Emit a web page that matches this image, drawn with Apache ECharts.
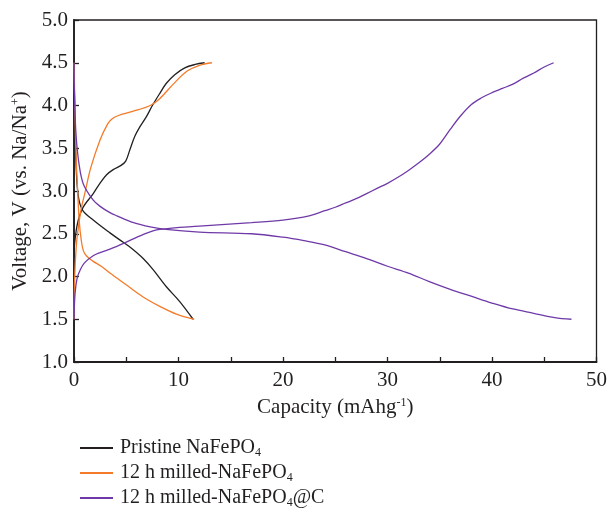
<!DOCTYPE html>
<html>
<head>
<meta charset="utf-8">
<script src="https://cdn.jsdelivr.net/npm/echarts@6/dist/echarts.min.js"></script>
<style>html,body{margin:0;padding:0;background:#fff}#c{width:610px;height:517px}</style>
</head>
<body>
<div id="c"></div>
<script>
const seriesNames = ['Pristine NaFePO4', '12 h milled-NaFePO4', '12 h milled-NaFePO4@C'];
const xTicks = [0, 10, 20, 30, 40, 50];
const yTicks = [1.0, 1.5, 2.0, 2.5, 3.0, 3.5, 4.0, 4.5, 5.0];

// Pristine NaFePO4
const pristineCharge = [[0,2.3],[0.3,2.6],[0.83,2.8],[1.84,2.97],[2.48,3.09],[3.12,3.19],[3.75,3.25],[4.5,3.3],[4.95,3.35],[5.34,3.48],[5.82,3.64],[6.3,3.75],[6.93,3.87],[7.5,4.0],[8.2,4.14],[8.84,4.26],[9.64,4.36],[10.6,4.44],[11.6,4.48],[12.5,4.5]];
const pristineDischarge = [[0,4.5],[0.08,3.9],[0.2,3.3],[0.4,2.95],[0.8,2.78],[1.84,2.66],[3.44,2.51],[4.71,2.4],[5.5,2.33],[6.62,2.21],[7.57,2.08],[8.84,1.88],[10.1,1.71],[11.4,1.5]];

// 12 h milled-NaFePO4
const milledCharge = [[0,1.5],[0.03,1.8],[0.1,2.1],[0.25,2.4],[0.45,2.6],[0.7,2.8],[1.05,2.98],[1.6,3.27],[2.5,3.6],[3.2,3.78],[3.6,3.84],[4.2,3.88],[5.6,3.93],[7.3,4.0],[8.2,4.08],[9.5,4.25],[10.8,4.4],[12.0,4.47],[13.2,4.5]];
const milledDischarge = [[0,4.5],[0.1,3.9],[0.2,3.4],[0.35,3.0],[0.5,2.65],[0.7,2.42],[0.9,2.3],[1.2,2.24],[1.8,2.18],[2.6,2.12],[3.44,2.04],[5.03,1.9],[6.62,1.76],[8.21,1.65],[9.8,1.56],[11.5,1.5]];

// 12 h milled-NaFePO4@C
const carbonCharge = [[0,1.5],[0.1,1.8],[0.3,1.98],[0.6,2.08],[1.0,2.16],[1.8,2.24],[2.5,2.28],[3.44,2.32],[4.8,2.39],[6.6,2.49],[8.2,2.55],[12,2.59],[17,2.63],[20,2.66],[22.5,2.71],[24,2.77],[25,2.81],[26,2.86],[27,2.91],[28,2.97],[29,3.03],[30,3.09],[31,3.16],[32,3.24],[33,3.33],[34,3.43],[35,3.55],[36,3.72],[37,3.88],[38,4.01],[39,4.09],[40,4.15],[41,4.2],[42,4.25],[43,4.32],[44,4.38],[45,4.45],[45.9,4.5]];
const carbonDischarge = [[0,4.5],[0.05,4.1],[0.2,3.65],[0.5,3.3],[0.9,3.08],[1.8,2.9],[2.5,2.82],[3.4,2.75],[4.1,2.71],[5.7,2.63],[7.3,2.58],[8.8,2.55],[12,2.52],[17,2.5],[20,2.46],[22,2.42],[24,2.37],[26,2.29],[28,2.21],[30,2.12],[32,2.04],[34,1.94],[36,1.85],[38,1.77],[40,1.69],[42,1.62],[44,1.57],[46,1.52],[47.6,1.5]];

const colors = ['#231f20', '#f47b2a', '#6f3aa8'];
const font = '"Liberation Serif", "DejaVu Serif", serif';

function mk(name, data, color) {
  return {
    type: 'line', name: name, data: data, showSymbol: false, symbol: 'none',
    smooth: 0.35, lineStyle: { color: color, width: 1.3 }, itemStyle: { color: color },
    animation: false, z: 3
  };
}

const supStyle = { fontFamily: font, fontSize: 12, verticalAlign: 'top', padding: [0, 0, 9, 0], color: '#231f20' };

const chart = echarts.init(document.getElementById('c'), null, { renderer: 'canvas' });
chart.setOption({
  animation: false,
  textStyle: { fontFamily: font },
  grid: { left: 74, right: 12, top: 20, bottom: 155, show: true, borderColor: '#231f20', borderWidth: 1.3, backgroundColor: 'transparent' },
  xAxis: {
    type: 'value', min: xTicks[0], max: xTicks[xTicks.length - 1], interval: 10,
    name: 'Capacity (mAhg{sup|-1})', nameLocation: 'middle', nameGap: 35,
    nameTextStyle: { fontFamily: font, fontSize: 21, color: '#231f20', rich: { sup: supStyle } },
    axisLine: { lineStyle: { color: '#231f20', width: 1.8 } },
    axisTick: { inside: true, length: 5, lineStyle: { color: '#231f20', width: 1.3 } },
    minorTick: { show: true, splitNumber: 2, length: 5, lineStyle: { color: '#231f20', width: 1.3 } },
    axisLabel: { fontFamily: font, fontSize: 21, color: '#231f20', margin: 8 },
    splitLine: { show: false }
  },
  yAxis: {
    type: 'value', min: yTicks[0], max: yTicks[yTicks.length - 1], interval: 0.5,
    name: 'Voltage, V (vs. Na/Na{sup|+})', nameLocation: 'middle', nameGap: 41, nameRotate: 90,
    nameTextStyle: { fontFamily: font, fontSize: 21, color: '#231f20', rich: { sup: supStyle } },
    axisLine: { lineStyle: { color: '#231f20', width: 1.8 } },
    axisTick: { inside: true, length: 5, lineStyle: { color: '#231f20', width: 1.3 } },
    axisLabel: { fontFamily: font, fontSize: 21, color: '#231f20', margin: 6, formatter: v => v.toFixed(1) },
    splitLine: { show: false }
  },
  legend: {
    orient: 'vertical', left: 75, top: 433, itemGap: 4, itemWidth: 33, itemHeight: 2, icon: 'rect',
    data: seriesNames,
    formatter: function (n) {
      return n.replace(/PO4/, 'PO{sub|4}');
    },
    textStyle: {
      fontFamily: font, fontSize: 20, color: '#231f20', padding: [0, 0, 0, 2],
      rich: { sub: { fontFamily: font, fontSize: 12, verticalAlign: 'bottom', padding: [10, 0, 0, 0], color: '#231f20' } }
    }
  },
  series: [
    mk(seriesNames[0], pristineCharge, colors[0]),
    mk(seriesNames[0], pristineDischarge, colors[0]),
    mk(seriesNames[1], milledCharge, colors[1]),
    mk(seriesNames[1], milledDischarge, colors[1]),
    mk(seriesNames[2], carbonCharge, colors[2]),
    mk(seriesNames[2], carbonDischarge, colors[2])
  ]
});
</script>
</body>
</html>
